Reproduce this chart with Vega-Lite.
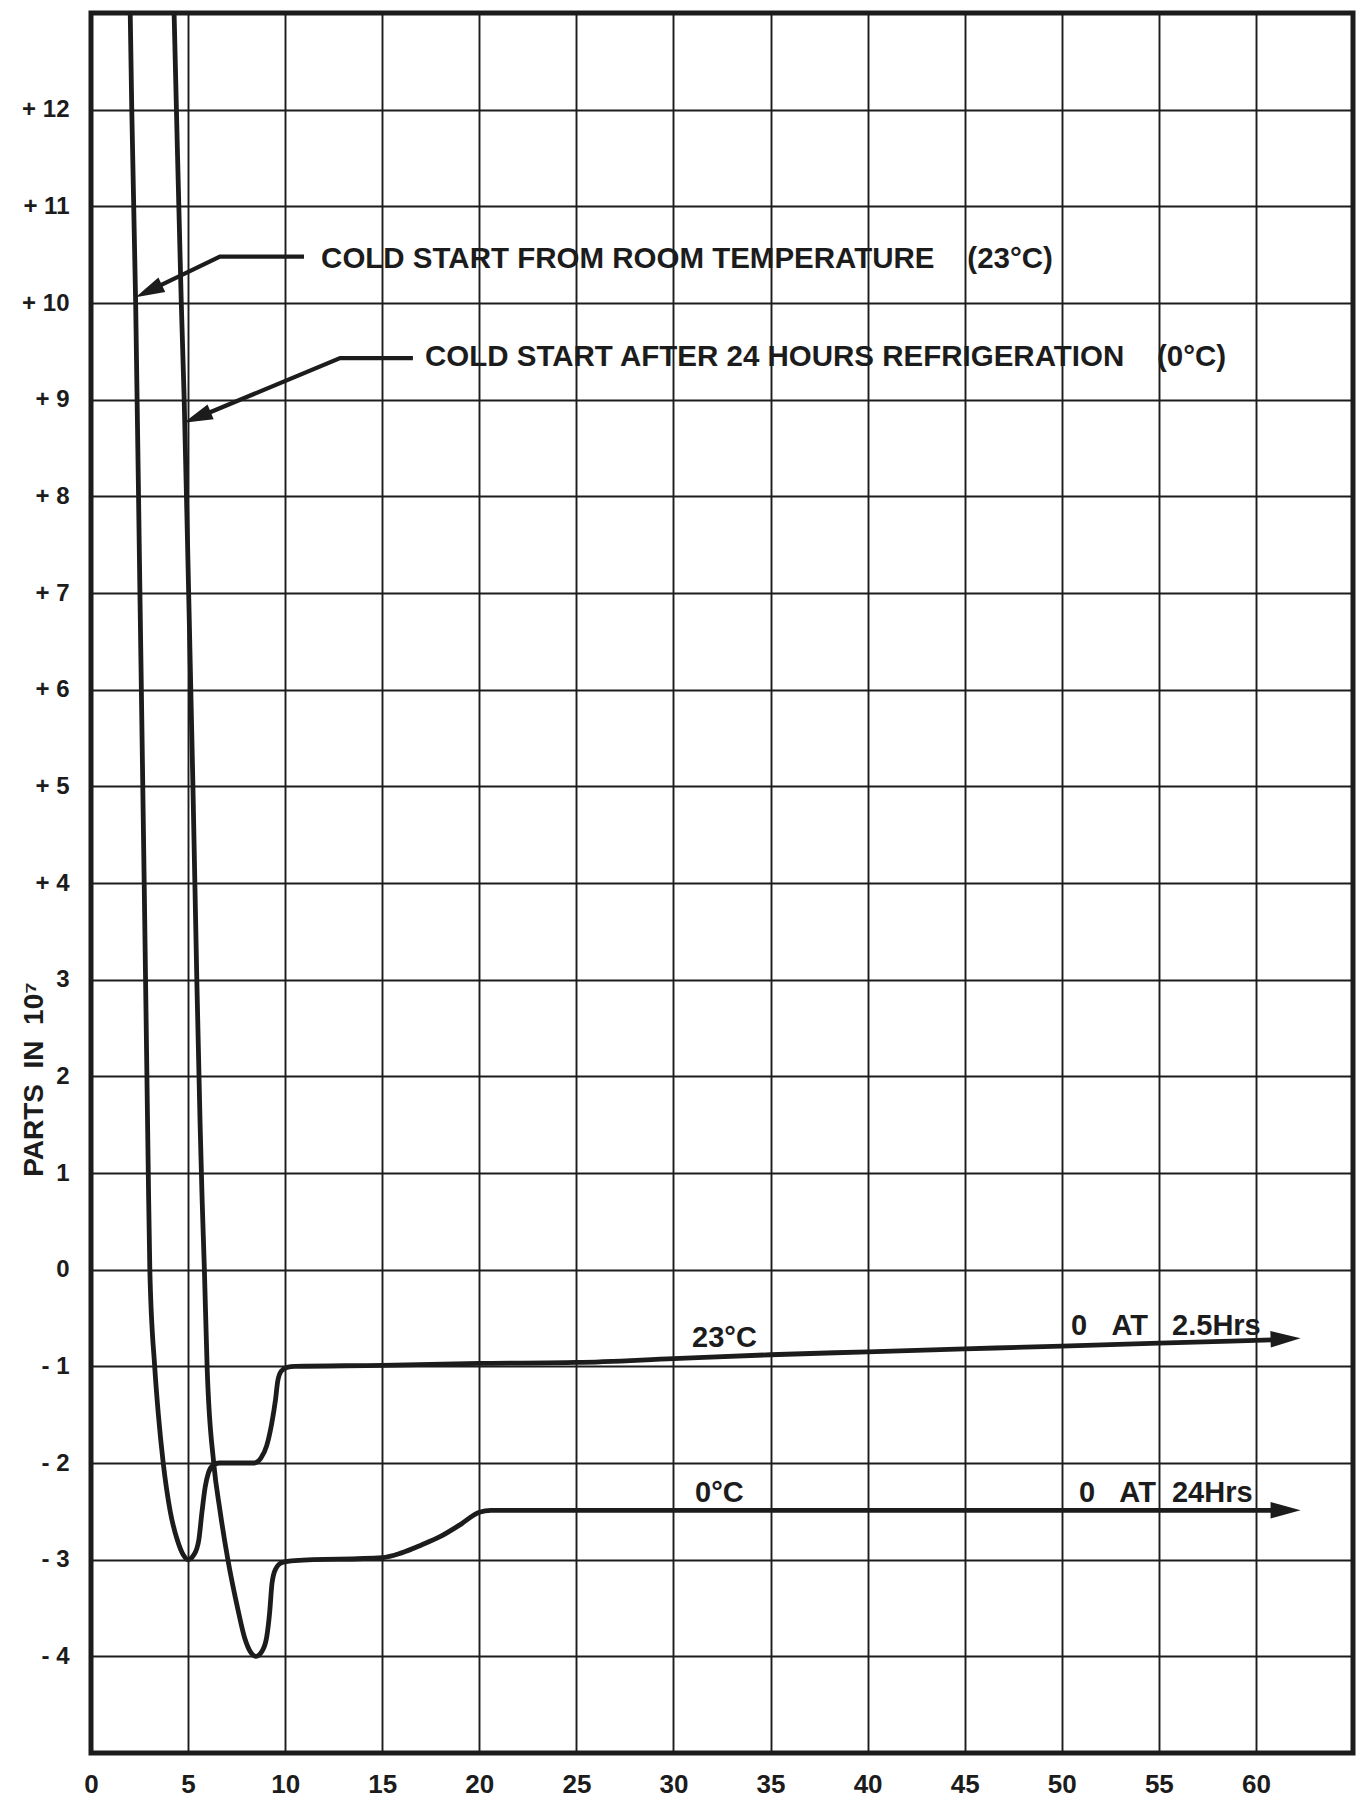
{
  "$schema": "https://vega.github.io/schema/vega-lite/v6.json",
  "width": 1262,
  "height": 1740,
  "autosize": {"type": "none"},
  "padding": {"left": 91, "top": 13, "right": 11, "bottom": 48},
  "background": "white",
  "config": {
    "view": {"stroke": "#1c1c1c", "strokeWidth": 5},
    "font": "Liberation Sans"
  },
  "datasets": {
    "curves": [
      {"series": "23C", "x": 2.02, "y": 13},
      {"series": "23C", "x": 2.1, "y": 12},
      {"series": "23C", "x": 2.3, "y": 10},
      {"series": "23C", "x": 2.52, "y": 7},
      {"series": "23C", "x": 2.74, "y": 4},
      {"series": "23C", "x": 2.88, "y": 2},
      {"series": "23C", "x": 2.95, "y": 1},
      {"series": "23C", "x": 3.03, "y": 0},
      {"series": "23C", "x": 3.28, "y": -1},
      {"series": "23C", "x": 3.47, "y": -1.5},
      {"series": "23C", "x": 3.72, "y": -2},
      {"series": "23C", "x": 4.08, "y": -2.5},
      {"series": "23C", "x": 4.45, "y": -2.8},
      {"series": "23C", "x": 4.75, "y": -2.95},
      {"series": "23C", "x": 5.0, "y": -3.0},
      {"series": "23C", "x": 5.3, "y": -2.95},
      {"series": "23C", "x": 5.55, "y": -2.8},
      {"series": "23C", "x": 5.72, "y": -2.5},
      {"series": "23C", "x": 5.88, "y": -2.25},
      {"series": "23C", "x": 6.05, "y": -2.1},
      {"series": "23C", "x": 6.3, "y": -2.02},
      {"series": "23C", "x": 6.6, "y": -2.0},
      {"series": "23C", "x": 8.4, "y": -2.0},
      {"series": "23C", "x": 8.75, "y": -1.95},
      {"series": "23C", "x": 9.05, "y": -1.82},
      {"series": "23C", "x": 9.3, "y": -1.6},
      {"series": "23C", "x": 9.5, "y": -1.35},
      {"series": "23C", "x": 9.62, "y": -1.15},
      {"series": "23C", "x": 9.8, "y": -1.05},
      {"series": "23C", "x": 10.1, "y": -1.01},
      {"series": "23C", "x": 10.5, "y": -1.0},
      {"series": "23C", "x": 15, "y": -0.99},
      {"series": "23C", "x": 20, "y": -0.97},
      {"series": "23C", "x": 25, "y": -0.96},
      {"series": "23C", "x": 30, "y": -0.92},
      {"series": "23C", "x": 35, "y": -0.88},
      {"series": "23C", "x": 40, "y": -0.85},
      {"series": "23C", "x": 45, "y": -0.82},
      {"series": "23C", "x": 50, "y": -0.79},
      {"series": "23C", "x": 55, "y": -0.76},
      {"series": "23C", "x": 61.2, "y": -0.725},
      {"series": "0C", "x": 4.28, "y": 13},
      {"series": "0C", "x": 4.4, "y": 12},
      {"series": "0C", "x": 4.65, "y": 10},
      {"series": "0C", "x": 4.8, "y": 9},
      {"series": "0C", "x": 5.03, "y": 7},
      {"series": "0C", "x": 5.25, "y": 5},
      {"series": "0C", "x": 5.45, "y": 3},
      {"series": "0C", "x": 5.62, "y": 1.5},
      {"series": "0C", "x": 5.72, "y": 0.75},
      {"series": "0C", "x": 5.84, "y": 0},
      {"series": "0C", "x": 5.98, "y": -1},
      {"series": "0C", "x": 6.32, "y": -2},
      {"series": "0C", "x": 6.65, "y": -2.5},
      {"series": "0C", "x": 7.05, "y": -3},
      {"series": "0C", "x": 7.55, "y": -3.5},
      {"series": "0C", "x": 7.9, "y": -3.8},
      {"series": "0C", "x": 8.2, "y": -3.95},
      {"series": "0C", "x": 8.5, "y": -4.0},
      {"series": "0C", "x": 8.8, "y": -3.95},
      {"series": "0C", "x": 9.05, "y": -3.8},
      {"series": "0C", "x": 9.2, "y": -3.55},
      {"series": "0C", "x": 9.32, "y": -3.25},
      {"series": "0C", "x": 9.5, "y": -3.1},
      {"series": "0C", "x": 9.85, "y": -3.03},
      {"series": "0C", "x": 10.5, "y": -3.01},
      {"series": "0C", "x": 15, "y": -2.98},
      {"series": "0C", "x": 16, "y": -2.93},
      {"series": "0C", "x": 17, "y": -2.85},
      {"series": "0C", "x": 18, "y": -2.76},
      {"series": "0C", "x": 19, "y": -2.64},
      {"series": "0C", "x": 20, "y": -2.51},
      {"series": "0C", "x": 20.6, "y": -2.49},
      {"series": "0C", "x": 61.2, "y": -2.49}
    ],
    "pointers": [
      {"id": "a1", "x": 10.97, "y": 10.48},
      {"id": "a1", "x": 6.64, "y": 10.48},
      {"id": "a1", "x": 2.85, "y": 10.113},
      {"id": "a2", "x": 16.58, "y": 9.43},
      {"id": "a2", "x": 12.83, "y": 9.43},
      {"id": "a2", "x": 5.3, "y": 8.80}
    ],
    "heads": [
      {"id": "a1", "x": 2.3, "y": 10.06},
      {"id": "a2", "x": 4.78, "y": 8.76},
      {"id": "r23", "x": 62.3, "y": -0.71},
      {"id": "r0", "x": 62.3, "y": -2.49}
    ],
    "notes": [
      {"label": "COLD START FROM ROOM TEMPERATURE\u00a0\u00a0\u00a0\u00a0(23°C)", "x": 11.85, "y": 10.456},
      {"label": "COLD START AFTER 24 HOURS REFRIGERATION\u00a0\u00a0\u00a0\u00a0(0°C)", "x": 17.2, "y": 9.443}
    ],
    "tags": [
      {"label": "23°C", "x": 30.96, "y": -0.712},
      {"label": "0\u00a0\u00a0\u00a0AT\u00a0\u00a0\u00a02.5Hrs", "x": 50.48, "y": -0.578},
      {"label": "0°C", "x": 31.11, "y": -2.315},
      {"label": "0\u00a0\u00a0\u00a0AT\u00a0\u00a024Hrs", "x": 50.89, "y": -2.315}
    ]
  },
  "encoding": {
    "x": {
      "field": "x",
      "type": "quantitative",
      "scale": {"domain": [0, 65], "nice": false, "zero": false},
      "axis": {
        "values": [0, 5, 10, 15, 20, 25, 30, 35, 40, 45, 50, 55, 60],
        "title": null,
        "grid": true,
        "gridColor": "#1c1c1c",
        "gridWidth": 1.9,
        "gridOpacity": 1,
        "ticks": false,
        "tickSize": 0,
        "domain": false,
        "labelPadding": 31,
        "labelBaseline": "middle",
        "labelFontSize": 26,
        "labelFontWeight": "bold",
        "labelFont": "Liberation Sans",
        "labelColor": "#1c1c1c",
        "labelFlush": false,
        "labelOverlap": false
      }
    },
    "y": {
      "field": "y",
      "type": "quantitative",
      "scale": {"domain": [-5, 13], "nice": false, "zero": false},
      "axis": {
        "values": [-4, -3, -2, -1, 0, 1, 2, 3, 4, 5, 6, 7, 8, 9, 10, 11, 12],
        "labelExpr": "datum.value >= 4 ? '+ ' + datum.value : (datum.value < 0 ? '- ' + (-datum.value) : '' + datum.value)",
        "title": "PARTS\u00a0\u00a0IN\u00a0\u00a010⁷",
        "titleFont": "Liberation Sans",
        "titleFontSize": 28,
        "titleFontWeight": "bold",
        "titleColor": "#1c1c1c",
        "titleAngle": 270,
        "titleAlign": "center",
        "titleBaseline": "middle",
        "titleX": -57,
        "titleY": 1066,
        "grid": true,
        "gridColor": "#1c1c1c",
        "gridWidth": 1.9,
        "gridOpacity": 1,
        "ticks": false,
        "tickSize": 0,
        "domain": false,
        "labelPadding": 22,
        "labelAlign": "right",
        "labelBaseline": "middle",
        "labelFontSize": 24,
        "labelFontWeight": "bold",
        "labelFont": "Liberation Sans",
        "labelColor": "#1c1c1c",
        "labelFlush": false,
        "labelOverlap": false
      }
    }
  },
  "layer": [
    {
      "data": {"name": "curves"},
      "mark": {"type": "line", "interpolate": "monotone", "strokeWidth": 4.8, "color": "#1c1c1c", "clip": true},
      "encoding": {"detail": {"field": "series"}}
    },
    {
      "data": {"name": "pointers"},
      "mark": {"type": "line", "strokeWidth": 4.2, "color": "#1c1c1c"},
      "encoding": {"detail": {"field": "id"}}
    },
    {
      "data": {"name": "heads"},
      "transform": [{"filter": "datum.id == 'a1'"}],
      "mark": {"type": "point", "shape": "M0,0L-2,-0.55L-2,0.55Z", "filled": true, "size": 841, "angle": 154.5, "color": "#1c1c1c", "opacity": 1, "strokeWidth": 0}
    },
    {
      "data": {"name": "heads"},
      "transform": [{"filter": "datum.id == 'a2'"}],
      "mark": {"type": "point", "shape": "M0,0L-2,-0.55L-2,0.55Z", "filled": true, "size": 841, "angle": 157.5, "color": "#1c1c1c", "opacity": 1, "strokeWidth": 0}
    },
    {
      "data": {"name": "heads"},
      "transform": [{"filter": "datum.id == 'r23'"}],
      "mark": {"type": "point", "shape": "M0,0L-2,-0.55L-2,0.55Z", "filled": true, "size": 900, "angle": 358.4, "color": "#1c1c1c", "opacity": 1, "strokeWidth": 0}
    },
    {
      "data": {"name": "heads"},
      "transform": [{"filter": "datum.id == 'r0'"}],
      "mark": {"type": "point", "shape": "M0,0L-2,-0.55L-2,0.55Z", "filled": true, "size": 900, "angle": 0, "color": "#1c1c1c", "opacity": 1, "strokeWidth": 0}
    },
    {
      "data": {"name": "notes"},
      "mark": {"type": "text", "align": "left", "baseline": "middle", "fontSize": 29.5, "fontWeight": "bold", "font": "Liberation Sans", "color": "#1c1c1c"},
      "encoding": {"text": {"field": "label"}}
    },
    {
      "data": {"name": "tags"},
      "mark": {"type": "text", "align": "left", "baseline": "middle", "fontSize": 29, "fontWeight": "bold", "font": "Liberation Sans", "color": "#1c1c1c"},
      "encoding": {"text": {"field": "label"}}
    }
  ]
}
